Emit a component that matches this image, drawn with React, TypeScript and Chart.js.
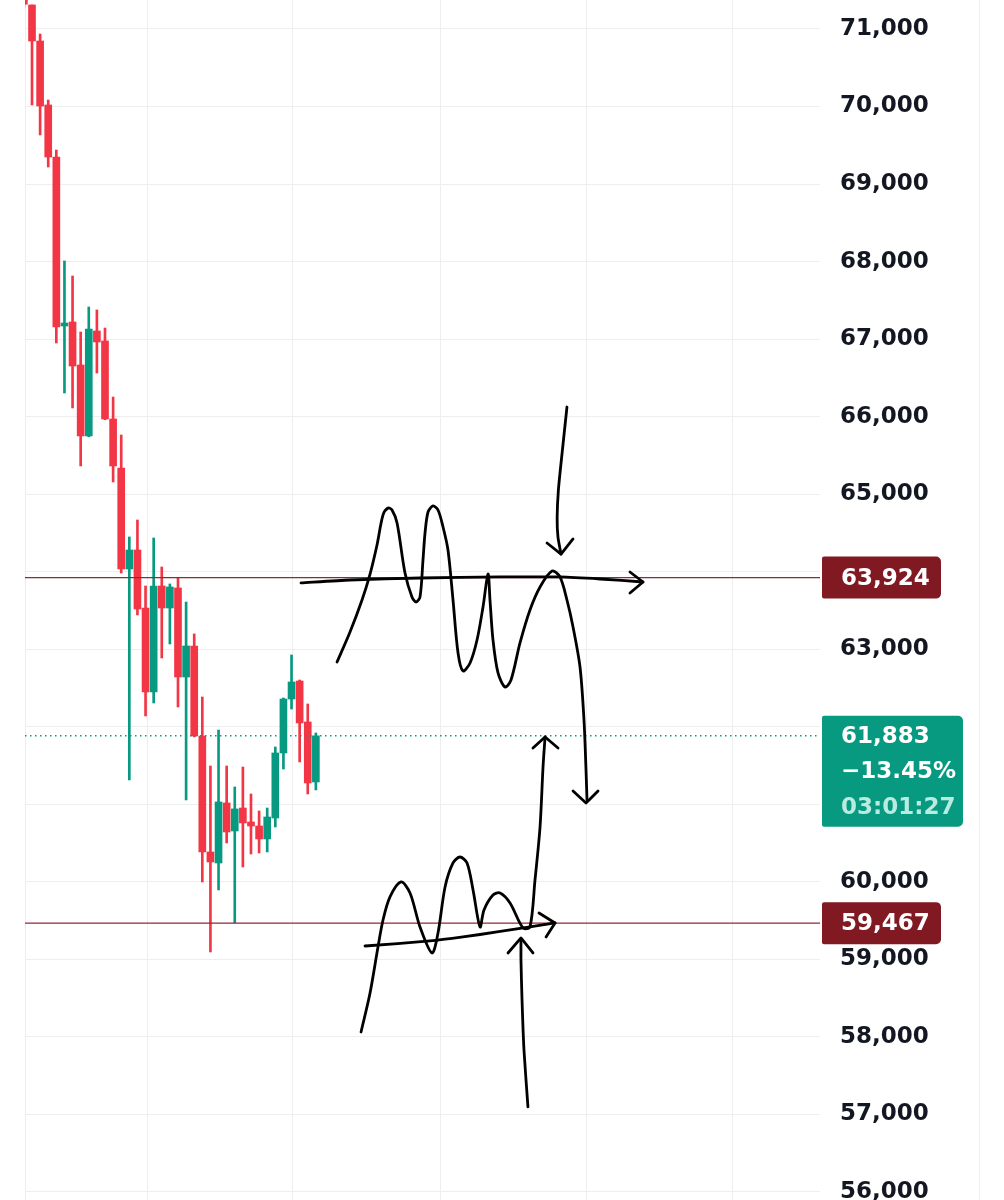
import React, { useEffect, useRef } from "react";
import { Chart, registerables } from "chart.js";

Chart.register(...registerables);

// ---- candle data (index, OHLC) ----
const OPEN = [71700, 71310, 70845, 70020, 69349, 67169, 67221, 66666, 65751, 67105, 66976, 65970, 65338, 64035, 64280, 63532, 62449, 63816, 63532, 63790, 62642, 63042, 61881, 60385, 60243, 61017, 60656, 60952, 60772, 60720, 60553, 60823, 61662, 62358, 62590, 62062, 61288];
const HIGH = [71800, 71310, 70935, 70084, 69439, 68008, 67814, 67092, 67414, 67376, 67143, 66253, 65763, 64448, 64667, 63816, 64435, 64061, 63842, 63919, 63609, 63197, 62384, 61494, 61958, 61494, 61223, 61481, 61133, 60914, 60952, 61739, 62371, 62926, 62603, 62294, 61920];
const LOW = [71280, 70020, 69633, 69220, 66950, 66305, 66112, 65364, 65740, 66563, 65960, 65157, 63983, 61314, 63442, 62139, 62307, 62887, 63068, 62255, 61056, 61870, 59998, 59095, 59895, 60501, 59469, 60191, 60359, 60372, 60385, 60707, 61455, 62229, 61546, 61133, 61185];
const CLOSE = [71320, 70845, 70007, 69349, 67156, 67208, 66653, 65751, 67131, 66963, 65970, 65364, 64035, 64280, 63519, 62449, 63816, 63532, 63803, 62642, 63042, 61881, 60385, 60256, 61030, 60643, 60940, 60759, 60720, 60553, 60836, 61662, 62358, 62578, 62049, 61275, 61883];

// ---- levels / labels ----
const LEVELS = [63924, 59467];
const LAST_PRICE = 61883;
const LAST_CHANGE = "\u221213.45%";
const COUNTDOWN = "03:01:27";
const Y_TICKS = [56000, 57000, 58000, 59000, 60000, 61000, 62000, 63000, 64000, 65000, 66000, 67000, 68000, 69000, 70000, 71000];
const GRID_X = [0.136, 15.18, 33.18, 51.31, 69.43, 87.43];
const X_MIN = 0.136;
const X_MAX = 98.16;
const Y_MIN = 55896;
const Y_MAX = 71374;

// ---- hand-drawn annotation strokes (candle index, price) ----
const UW_X = [38.61, 40.21, 41.69, 42.68, 43.54, 44.28, 44.9, 45.39, 46.01, 46.99, 47.85, 48.35, 48.84, 49.21, 49.46, 49.83, 50.44, 51.06, 51.68, 52.29, 52.91, 53.53, 54.14, 55.01, 55.87, 56.61, 57.23, 57.47, 57.84, 58.46, 59.32, 60.06, 61.17, 62.4, 63.64, 65.12, 66.1, 66.96, 67.71, 68.57, 69.06, 69.31, 69.43];
const UW_Y = [62835, 63222, 63635, 63970, 64345, 64732, 64822, 64796, 64628, 63983, 63674, 63609, 63674, 64151, 64499, 64770, 64848, 64796, 64577, 64280, 63635, 62952, 62719, 62823, 63119, 63545, 63970, 63635, 63119, 62694, 62513, 62603, 63081, 63506, 63803, 64009, 63932, 63635, 63287, 62771, 62087, 61442, 61056];
const UWH_X = [67.71, 69.31, 70.79];
const UWH_Y = [61172, 61017, 61172];
const HL_X = [34.17, 40.21, 48.84, 58.71, 66.1, 71.04, 76.34];
const HL_Y = [63855, 63893, 63919, 63932, 63932, 63906, 63867];
const HLH_X = [74.73, 76.34, 74.73];
const HLH_Y = [63996, 63867, 63725];
const TA_X = [66.96, 66.4, 65.9, 65.75, 65.85, 66.23];
const TA_Y = [66124, 65570, 65050, 64700, 64450, 64228];
const TAH_X = [64.5, 66.23, 67.71];
const TAH_Y = [64370, 64228, 64422];
const LW_X = [41.57, 42.68, 43.66, 44.28, 45.14, 46.5, 47.61, 48.84, 50.32, 51.06, 51.93, 52.91, 53.77, 54.64, 55.38, 56.24, 56.73, 57.84, 58.71, 59.94, 61.54, 62.4, 63.02, 63.64, 64.01, 64.26];
const LW_Y = [58063, 58566, 59160, 59508, 59805, 59998, 59856, 59418, 59082, 59340, 59934, 60243, 60320, 60243, 59895, 59418, 59637, 59830, 59856, 59727, 59405, 59418, 60024, 60707, 61481, 61868];
const LWH_X = [62.77, 64.26, 65.86];
const LWH_Y = [61726, 61868, 61726];
const RL_X = [42.06, 50.07, 54.14, 58.33, 62.4, 65.49];
const RL_Y = [59172, 59237, 59289, 59353, 59418, 59469];
const RLH_X = [63.51, 65.49, 64.38];
const RLH_Y = [59598, 59469, 59289];
const BA_X = [62.15, 61.66, 61.42, 61.29, 61.29];
const BA_Y = [57096, 57831, 58476, 58992, 59250];
const BAH_X = [59.69, 61.29, 62.77];
const BAH_Y = [59082, 59276, 59082];

const UP = "#089981";
const DOWN = "#F23645";
const LEVEL_COLOR = "#8e2a35";
const TAG_RED = "#801922";
const FONT = "'DejaVu Sans', sans-serif";

const fmt = (v: number) => v.toLocaleString("en-US");

const stroke = (xs: number[], ys: number[], tension: number) => ({
  type: "scatter" as const,
  data: xs.map((x, i) => ({ x, y: ys[i] })),
  showLine: true,
  borderColor: "#000000",
  borderWidth: 2.8,
  pointRadius: 0,
  tension,
  borderCapStyle: "round" as const,
  borderJoinStyle: "round" as const,
  order: 0,
});

const priceTags = {
  id: "priceTags",
  afterDraw(chart: any) {
    const ctx = chart.ctx;
    const ys = chart.scales.y;
    const left = chart.chartArea.right + 2;
    ctx.save();
    ctx.strokeStyle = "#eeeeee";
    ctx.lineWidth = 1;
    ctx.beginPath();
    ctx.moveTo(chart.chartArea.right + 159.5, 0);
    ctx.lineTo(chart.chartArea.right + 159.5, chart.height);
    ctx.stroke();

    ctx.font = `bold 23px ${FONT}`;
    ctx.textBaseline = "middle";
    ctx.textAlign = "left";
    for (const lvl of LEVELS) {
      const py = ys.getPixelForValue(lvl);
      ctx.fillStyle = TAG_RED;
      ctx.beginPath();
      ctx.roundRect(left, py - 21, 119, 42, [2, 5, 5, 2]);
      ctx.fill();
      ctx.fillStyle = "#ffffff";
      ctx.fillText(fmt(lvl), left + 19, py + 1);
    }
    const py = ys.getPixelForValue(LAST_PRICE);
    ctx.fillStyle = UP;
    ctx.beginPath();
    ctx.roundRect(left, py - 20, 141, 111, [2, 5, 5, 2]);
    ctx.fill();
    ctx.fillStyle = "#ffffff";
    ctx.fillText(fmt(LAST_PRICE), left + 19, py + 1);
    ctx.fillText(LAST_CHANGE, left + 19, py + 36);
    ctx.fillStyle = "#b9ebe0";
    ctx.fillText(COUNTDOWN, left + 19, py + 72);
    ctx.restore();
  },
};

export default function App() {
  const ref = useRef<HTMLCanvasElement | null>(null);
  useEffect(() => {
    if (!ref.current) return;
    const idx = OPEN.map((_, i) => i);
    const colors = idx.map((i) => (CLOSE[i] >= OPEN[i] ? UP : DOWN));
    const chart = new Chart(ref.current, {
      type: "scatter",
      data: {
        datasets: [
          stroke(UW_X, UW_Y, 0.3),
          stroke(UWH_X, UWH_Y, 0),
          stroke(HL_X, HL_Y, 0.2),
          stroke(HLH_X, HLH_Y, 0),
          stroke(TA_X, TA_Y, 0.25),
          stroke(TAH_X, TAH_Y, 0),
          stroke(LW_X, LW_Y, 0.3),
          stroke(LWH_X, LWH_Y, 0),
          stroke(RL_X, RL_Y, 0.2),
          stroke(RLH_X, RLH_Y, 0),
          stroke(BA_X, BA_Y, 0.2),
          stroke(BAH_X, BAH_Y, 0),
          {
            type: "line",
            data: [
              { x: X_MIN, y: LEVELS[0] },
              { x: X_MAX, y: LEVELS[0] },
            ],
            borderColor: LEVEL_COLOR,
            borderWidth: 1.2,
            pointRadius: 0,
            order: 1,
          } as any,
          {
            type: "line",
            data: [
              { x: X_MIN, y: LEVELS[1] },
              { x: X_MAX, y: LEVELS[1] },
            ],
            borderColor: LEVEL_COLOR,
            borderWidth: 1.2,
            pointRadius: 0,
            order: 1,
          } as any,
          {
            type: "line",
            data: [
              { x: X_MIN, y: LAST_PRICE },
              { x: X_MAX, y: LAST_PRICE },
            ],
            borderColor: UP,
            borderWidth: 1.5,
            borderDash: [1.5, 3.5],
            pointRadius: 0,
            order: 1,
          } as any,
          {
            type: "bar",
            data: idx.map((i) => ({ x: i, y: [OPEN[i], CLOSE[i]] })),
            backgroundColor: colors,
            barThickness: 7,
            minBarLength: 2,
            grouped: false,
            order: 2,
          } as any,
          {
            type: "bar",
            data: idx.map((i) => ({ x: i, y: [LOW[i], HIGH[i]] })),
            backgroundColor: colors,
            barThickness: 2,
            grouped: false,
            order: 3,
          } as any,
        ],
      },
      options: {
        animation: false,
        responsive: true,
        maintainAspectRatio: false,
        events: [],
        layout: { padding: { left: 25, top: 0, right: 0, bottom: 0 } },
        plugins: { legend: { display: false }, tooltip: { enabled: false } },
        scales: {
          x: {
            type: "linear",
            min: X_MIN,
            max: X_MAX,
            offset: false,
            grid: { color: "#eeeeee", lineWidth: 1, drawTicks: false, offset: false },
            border: { display: false },
            ticks: { display: false },
            afterBuildTicks: (s: any) => {
              s.ticks = GRID_X.map((v) => ({ value: v }));
            },
            afterFit: (s: any) => {
              s.height = 0;
              s.paddingLeft = 0;
              s.paddingRight = 0;
            },
          },
          y: {
            type: "linear",
            position: "right",
            min: Y_MIN,
            max: Y_MAX,
            grid: { color: "#eeeeee", lineWidth: 1, drawTicks: false },
            border: { display: false },
            ticks: {
              autoSkip: false,
              padding: 20,
              color: "#131722",
              font: { family: FONT, size: 23, weight: "bold" },
              callback: (v: any) => fmt(Number(v)),
            },
            afterBuildTicks: (s: any) => {
              s.ticks = Y_TICKS.map((v) => ({ value: v }));
            },
            afterFit: (s: any) => {
              s.width = 184;
              s.paddingTop = 0;
              s.paddingBottom = 0;
            },
          },
        },
      } as any,
      plugins: [priceTags],
    });
    return () => chart.destroy();
  }, []);
  return (
    <div style={{ position: "absolute", left: 0, top: 0, width: 1004, height: 1200, background: "#ffffff" }}>
      <canvas ref={ref} />
    </div>
  );
}
